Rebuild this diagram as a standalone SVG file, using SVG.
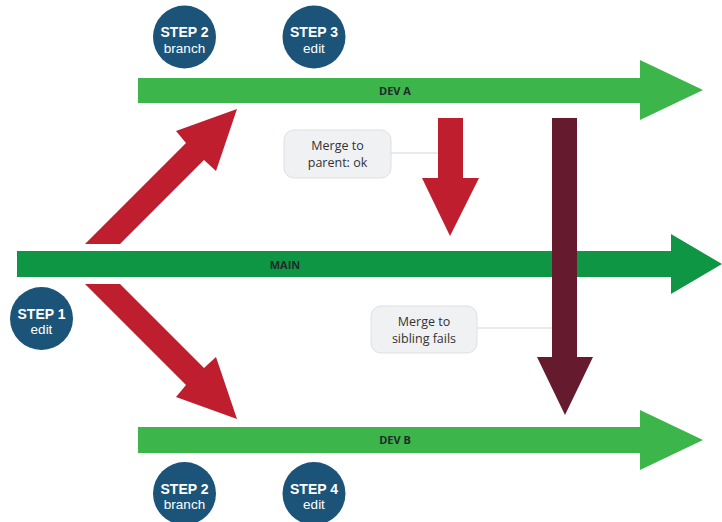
<svg xmlns="http://www.w3.org/2000/svg" width="722" height="522" viewBox="0 0 722 522">
  <style>
    .step circle { fill: #1b5478; }
    .step .t1 { font-family: "Liberation Sans", Arial, sans-serif; font-weight: 700; font-size: 14px; fill: #ffffff; text-anchor: middle; }
    .step .t2 { font-family: "Liberation Sans", Arial, sans-serif; font-size: 13.5px; fill: #ffffff; text-anchor: middle; }
    .lbl { font-family: "Open Sans", "Noto Sans", sans-serif; font-weight: 700; font-size: 11px; fill: #1f2a2a; text-anchor: middle; }
    .note rect { fill: #f0f1f3; stroke: #dcdfe3; stroke-width: 1; }
    .note text { font-family: "Open Sans", "Noto Sans", sans-serif; font-size: 12.5px; fill: #333333; text-anchor: middle; }
    .lead { stroke: #e1e3e6; stroke-width: 1.5; fill: none; }
    .dev { fill: #3cb54a; }
    .main { fill: #0f9644; }
    .red { fill: #be1e2d; }
    .dark { fill: #661a2e; }
  </style>

  <!-- branch lines -->
  <g id="dev-a">
    <polygon class="dev" points="138,78 640,78 640,60 703,90 640,120 640,103 138,103"/>
    <text class="lbl" x="395" y="95">DEV A</text>
  </g>
  <g id="main">
    <polygon class="main" points="17,251 671,251 671,234 722,264 671,294 671,277 17,277"/>
    <text class="lbl" x="285" y="269">MAIN</text>
  </g>
  <g id="dev-b">
    <polygon class="dev" points="138,427 640,427 640,410 703,440 640,470 640,453 138,453"/>
    <text class="lbl" x="395" y="444">DEV B</text>
  </g>

  <!-- branch / merge arrows and callout leaders -->
  <g id="connectors">
    <polygon class="red" points="85,244 186,143 176,131 237,109 216,171 204,160 120,244"/>
    <polygon class="red" points="85,284 186,385 176,397 237,419 216,357 204,368 120,284"/>
    <polygon class="red" points="438,118 463,118 463,178 479,178 450,236 422,178 438,178"/>
    <polygon class="dark" points="552,118 577,118 577,357 593,357 565,415 537,357 552,357"/>
    <line class="lead" x1="391" y1="153" x2="438" y2="153"/>
    <line class="lead" x1="477" y1="328" x2="552" y2="328"/>
  </g>

  <!-- callouts -->
  <g id="note-parent" class="note">
    <rect x="284" y="130" width="107" height="48" rx="10"/>
    <text x="337.5" y="150">Merge to</text>
    <text x="337.5" y="167">parent: ok</text>
  </g>
  <g id="note-sibling" class="note">
    <rect x="371" y="306" width="106" height="47" rx="10"/>
    <text x="424" y="326">Merge to</text>
    <text x="424" y="343">sibling fails</text>
  </g>

  <!-- step badges -->
  <g id="step1" class="step">
    <circle cx="41.5" cy="318.5" r="31.5"/>
    <text class="t1" x="41.5" y="318.5">STEP 1</text>
    <text class="t2" x="41.5" y="334">edit</text>
  </g>
  <g id="step2-a" class="step">
    <circle cx="184.5" cy="37" r="31.5"/>
    <text class="t1" x="184.5" y="37">STEP 2</text>
    <text class="t2" x="184.5" y="52.5">branch</text>
  </g>
  <g id="step3" class="step">
    <circle cx="314" cy="37" r="31.5"/>
    <text class="t1" x="314" y="37">STEP 3</text>
    <text class="t2" x="314" y="52.5">edit</text>
  </g>
  <g id="step2-b" class="step">
    <circle cx="184.5" cy="493.5" r="31.5"/>
    <text class="t1" x="184.5" y="493.5">STEP 2</text>
    <text class="t2" x="184.5" y="509">branch</text>
  </g>
  <g id="step4" class="step">
    <circle cx="314" cy="493.5" r="31.5"/>
    <text class="t1" x="314" y="493.5">STEP 4</text>
    <text class="t2" x="314" y="509">edit</text>
  </g>
</svg>
